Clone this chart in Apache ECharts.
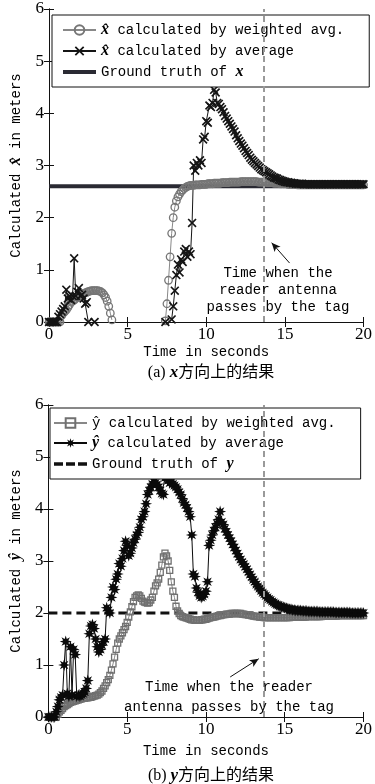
<!DOCTYPE html>
<html>
<head>
<meta charset="utf-8">
<script src="https://cdn.jsdelivr.net/npm/echarts@6/dist/echarts.min.js"></script>
<style>
html,body{margin:0;padding:0;background:#fff;}
#chart{width:375px;height:784px;}
</style>
</head>
<body>
<div id="chart"></div>
<script>
// ---------- DATA ----------
const _ = null;
// sampling grid (seconds) 0.0 .. 20.0, step 0.1
const TIME = Array.from({length: 201}, (v, i) => i / 10);
const X_TICKS = [0, 5, 10, 15, 20];
const Y_TICKS = [0, 1, 2, 3, 4, 5, 6];

// (a) x estimate by weighted average
const WX = [
  0,0,0,0,0,0,0,0,0.12,0.17,
  0.2,0.23,0.28,0.33,0.38,0.4,0.42,0.45,0.48,0.5,
  0.52,0.54,0.55,0.56,0.57,0.58,0.59,0.6,0.6,0.6,
  0.6,0.6,0.59,0.58,0.56,0.52,0.47,0.4,0.3,0.17,
  0.04,_,_,_,_,_,_,_,_,_,
  _,_,_,_,_,_,_,_,_,_,
  _,_,_,_,_,_,_,_,_,_,
  _,_,_,_,0.02,0.35,0.8,1.25,1.7,2.0,
  2.2,2.32,2.4,2.45,2.5,2.53,2.56,2.58,2.6,2.61,
  2.62,2.62,2.62,2.63,2.63,2.63,2.63,2.64,2.64,2.64,
  2.64,2.65,2.65,2.65,2.65,2.66,2.66,2.66,2.66,2.66,
  2.67,2.67,2.67,2.67,2.67,2.68,2.68,2.68,2.68,2.68,
  2.68,2.68,2.69,2.69,2.69,2.69,2.69,2.69,2.69,2.69,
  2.69,2.69,2.69,2.68,2.68,2.68,2.68,2.68,2.68,2.67,
  2.67,2.67,2.67,2.66,2.66,2.66,2.66,2.65,2.65,2.65,
  2.65,2.65,2.64,2.64,2.64,2.64,2.64,2.64,2.63,2.63,
  2.63,2.63,2.63,2.63,2.63,2.63,2.63,2.63,2.63,2.63,
  2.63,2.63,2.63,2.63,2.63,2.63,2.63,2.63,2.63,2.63,
  2.63,2.63,2.63,2.63,2.63,2.63,2.63,2.63,2.63,2.63,
  2.63,2.63,2.63,2.63,2.63,2.63,2.63,2.63,2.63,2.63,
  2.63
];
// (a) x estimate by plain average
const AX = [
  0,0,0,0,0,0,0.1,0.15,0.2,0.25,
  0.3,0.62,0.45,0.5,0.42,0.5,1.22,0.5,0.58,0.65,
  0.5,0.52,0.45,0.35,0.38,0,_,_,_,0,
  _,_,_,_,_,_,_,_,_,_,
  _,_,_,_,_,_,_,_,_,_,
  _,_,_,_,_,_,_,_,_,_,
  _,_,_,_,_,_,_,_,_,_,
  _,_,_,_,0,_,_,_,0.05,0.3,
  0.6,0.9,1.1,0.95,1.2,1.15,1.35,1.4,1.25,1.35,
  1.3,1.9,3.0,2.9,3.05,3.0,3.1,3.05,3.5,3.55,
  3.85,3.82,4.15,4.12,4.2,4.45,4.4,4.2,4.18,4.12,
  4.08,4.02,3.95,3.9,3.85,3.8,3.75,3.7,3.65,3.58,
  3.52,3.47,3.42,3.38,3.33,3.28,3.24,3.2,3.15,3.11,
  3.08,3.05,3.02,2.99,2.96,2.93,2.91,2.89,2.87,2.85,
  2.83,2.81,2.79,2.77,2.76,2.75,2.73,2.72,2.71,2.7,
  2.69,2.68,2.68,2.67,2.67,2.66,2.66,2.65,2.65,2.65,
  2.65,2.65,2.64,2.64,2.64,2.64,2.64,2.64,2.64,2.64,
  2.64,2.64,2.64,2.64,2.64,2.64,2.64,2.64,2.64,2.64,
  2.64,2.64,2.64,2.64,2.64,2.64,2.64,2.64,2.64,2.64,
  2.64,2.64,2.64,2.64,2.64,2.64,2.64,2.64,2.64,2.64,
  2.64
];
const GT_TIME = [0, 20];
const GT_X = [2.6, 2.6];

// (b) y estimate by weighted average
const WY = [
  0,0,0,0,0,0,0.05,0.1,0.13,0.16,
  0.2,0.22,0.24,0.26,0.28,0.29,0.3,0.31,0.32,0.33,
  0.34,0.35,0.36,0.36,0.37,0.37,0.38,0.38,0.39,0.4,
  0.41,0.42,0.44,0.47,0.5,0.55,0.6,0.66,0.72,0.8,
  0.9,1.02,1.15,1.3,1.42,1.5,1.56,1.62,1.68,1.74,
  1.82,1.92,2.02,2.12,2.22,2.3,2.33,2.35,2.33,2.28,
  2.23,2.21,2.2,2.19,2.2,2.25,2.3,2.42,2.52,2.58,
  2.65,2.78,2.92,3.08,3.15,3.1,3.0,2.82,2.6,2.42,
  2.3,2.13,2.04,1.99,1.95,1.93,1.92,1.91,1.9,1.89,
  1.88,1.87,1.87,1.86,1.86,1.86,1.86,1.87,1.87,1.88,
  1.88,1.89,1.9,1.91,1.92,1.92,1.93,1.94,1.95,1.95,
  1.96,1.97,1.97,1.98,1.98,1.98,1.99,1.99,1.99,1.99,
  1.99,1.99,1.99,1.98,1.98,1.97,1.97,1.96,1.96,1.95,
  1.94,1.94,1.93,1.93,1.92,1.92,1.92,1.91,1.91,1.91,
  1.91,1.91,1.91,1.91,1.91,1.91,1.91,1.91,1.91,1.91,
  1.91,1.91,1.91,1.91,1.92,1.92,1.92,1.92,1.92,1.92,
  1.92,1.92,1.92,1.92,1.93,1.93,1.93,1.93,1.93,1.93,
  1.93,1.93,1.93,1.93,1.94,1.94,1.94,1.94,1.94,1.94,
  1.94,1.94,1.94,1.94,1.95,1.95,1.95,1.95,1.95,1.95,
  1.95,1.95,1.95,1.95,1.95,1.95,1.95,1.95,1.95,1.95,
  1.95
];
// (b) y estimate by plain average
const AY = [
  0,0,0,0,0,0.1,0.2,0.33,0.38,0.42,
  1.0,1.45,0.45,0.4,1.35,0.42,1.3,1.2,0.4,0.42,
  0.4,0.43,0.45,0.48,0.55,0.7,1.6,1.75,1.78,1.7,
  1.5,1.35,1.25,1.3,1.38,1.45,1.5,2.1,2.05,2.0,
  2.3,2.5,2.45,2.65,2.75,2.95,2.9,3.05,3.2,3.38,
  3.3,3.1,3.15,3.25,3.35,3.42,3.5,3.55,3.65,3.8,
  3.85,3.95,4.1,4.28,4.35,4.42,4.48,4.52,4.5,4.47,
  4.42,4.35,4.3,4.28,4.6,4.62,4.55,4.5,4.52,4.48,
  4.45,4.42,4.38,4.32,4.28,4.2,4.12,4.08,4.02,3.95,
  3.85,3.5,2.75,2.7,2.48,2.4,2.33,2.3,2.32,2.36,
  2.42,2.6,3.3,3.4,3.5,3.58,3.65,3.72,3.8,3.95,
  3.75,3.7,3.62,3.56,3.5,3.44,3.38,3.32,3.26,3.2,
  3.14,3.08,3.03,2.98,2.94,2.89,2.84,2.79,2.74,2.69,
  2.64,2.6,2.55,2.51,2.47,2.43,2.39,2.36,2.33,2.3,
  2.27,2.25,2.22,2.2,2.18,2.16,2.15,2.13,2.12,2.11,
  2.1,2.09,2.08,2.07,2.07,2.06,2.06,2.05,2.05,2.05,
  2.05,2.04,2.04,2.04,2.04,2.03,2.03,2.03,2.03,2.03,
  2.03,2.03,2.02,2.02,2.02,2.02,2.02,2.02,2.02,2.02,
  2.02,2.02,2.01,2.01,2.01,2.01,2.01,2.01,2.01,2.01,
  2.01,2.01,2.0,2.0,2.0,2.0,2.0,2.0,2.0,2.0,
  2.0
];
const GT_Y = [2.0, 2.0];

// time when the reader antenna passes by the tag
const PASS_TIME = 13.66;
// annotation arrows [fromT, fromV, toT, toV]
const ARROW_A = [15.3, 1.13, 14.16, 1.52];
const ARROW_B = [11.54, 0.77, 13.35, 1.12];

// ---------- CHART ----------
const pairs = (vals, times) => vals.map((v, i) => [(times || TIME)[i], v === null ? '-' : v]);

const X_SYMBOL = 'path://M0,1.3L1.3,0L5,3.7L8.7,0L10,1.3L6.3,5L10,8.7L8.7,10L5,6.3L1.3,10L0,8.7L3.7,5Z';
const STAR_SYMBOL = (function () {
  let d = 'path://';
  const n = 8, ro = 10, ri = 4.6;
  for (let k = 0; k < n * 2; k++) {
    const r = k % 2 ? ri : ro;
    const a = Math.PI * k / n - Math.PI / 2;
    d += (k ? 'L' : 'M') + (10 + r * Math.cos(a)).toFixed(2) + ',' + (10 + r * Math.sin(a)).toFixed(2);
  }
  return d + 'Z';
})();
// legend icons for the ground-truth lines (tiny corner specks fix the bounding box)
const CORNERS = 'M0,0L0.05,0L0,0.05Z M33,12L32.95,12L33,11.95Z ';
const ICON_SOLID = 'path://' + CORNERS + 'M0,4L33,4L33,8L0,8Z';
const ICON_DASH = 'path://' + CORNERS + 'M0,4.2L9,4.2L9,7.8L0,7.8Z M12,4.2L21,4.2L21,7.8L12,7.8Z M24,4.2L33,4.2L33,7.8L24,7.8Z';

const MONO = '"Liberation Mono", "DejaVu Sans Mono", monospace';
const SERIF = '"Liberation Serif", "DejaVu Serif", serif';
const INK = '#000';

function xAxes(gridIndex, name, gap) {
  const common = {
    type: 'value', gridIndex, min: X_TICKS[0], max: X_TICKS[X_TICKS.length - 1], interval: 5,
    axisLine: {lineStyle: {color: '#111', width: 1}},
    axisTick: {inside: true, length: 5, lineStyle: {color: '#111'}},
    splitLine: {show: false}
  };
  return [
    Object.assign({}, common, {
      position: 'bottom',
      axisLabel: {color: INK, fontFamily: SERIF, fontSize: 17, margin: 4},
      name, nameLocation: 'middle', nameGap: gap,
      nameTextStyle: {fontFamily: MONO, fontSize: 14, color: INK}
    }),
    Object.assign({}, common, {position: 'top', axisLabel: {show: false}})
  ];
}
function yAxes(gridIndex, gap, hatChar) {
  const common = {
    type: 'value', gridIndex, min: Y_TICKS[0], max: Y_TICKS[Y_TICKS.length - 1], interval: 1,
    axisLine: {lineStyle: {color: '#111', width: 1}},
    axisTick: {inside: true, length: 5, lineStyle: {color: '#111'}},
    splitLine: {show: false}
  };
  return [
    Object.assign({}, common, {
      position: 'left',
      axisLabel: {color: INK, fontFamily: SERIF, fontSize: 17, margin: 5},
      name: 'Calculated {h|' + hatChar + '} in meters', nameLocation: 'middle', nameGap: gap,
      nameTextStyle: {fontFamily: MONO, fontSize: 14, color: INK,
        rich: {h: {fontFamily: SERIF, fontStyle: 'italic', fontWeight: 'bold', fontSize: 16, color: INK}}}
    }),
    Object.assign({}, common, {position: 'right', axisLabel: {show: false}})
  ];
}

const LEGEND_TEXT = {
  wx: '{h|x\u0302} calculated by weighted avg.',
  ax: '{h|x\u0302} calculated by average',
  gx: 'Ground truth of {h|x}',
  wy: '\u0177 calculated by weighted avg.',
  ay: '{h|\u0177} calculated by average',
  gy: 'Ground truth of {h|y}'
};
function legend(items, left, top, pad) {
  return {
    data: items, orient: 'vertical', left, top,
    itemWidth: 33, itemHeight: 12, itemGap: 5,
    padding: pad, backgroundColor: '#fff', borderColor: '#111', borderWidth: 1, borderRadius: 0,
    selectedMode: false,
    formatter: n => LEGEND_TEXT[n],
    textStyle: {fontFamily: MONO, fontSize: 14, color: INK,
      rich: {h: {fontFamily: SERIF, fontStyle: 'italic', fontWeight: 'bold', fontSize: 16, color: INK}}}
  };
}

function passLine(arrow) {
  return {
    silent: true, symbol: 'none', animation: false,
    label: {show: false},
    data: [
      {xAxis: PASS_TIME, lineStyle: {color: '#9a9a9a', type: [6, 4], width: 2}},
      [
        {coord: [arrow[0], arrow[1]], symbol: 'none', lineStyle: {color: '#111', type: 'solid', width: 1}},
        {coord: [arrow[2], arrow[3]], symbol: 'arrow', symbolSize: [6, 9]}
      ]
    ]
  };
}

const captionStyle = {
  fontFamily: SERIF + ', "Noto Sans CJK SC"', fontSize: 16, fontWeight: 'normal', color: INK,
  rich: {i: {fontFamily: SERIF, fontStyle: 'italic', fontWeight: 'bold', fontSize: 17, color: INK}}
};

const chart = echarts.init(document.getElementById('chart'), null, {renderer: 'canvas'});
chart.setOption({
  animation: false,
  backgroundColor: '#fff',
  grid: [
    {left: 47, top: 9, width: 322, height: 313},
    {left: 42, top: 405, width: 331, height: 312}
  ],
  xAxis: [...xAxes(0, 'Time in seconds', 23), ...xAxes(1, 'Time in seconds', 27)],
  yAxis: [...yAxes(0, 25, 'x\u0302'), ...yAxes(1, 20, '\u0177')],
  legend: [
    legend(['wx', 'ax', {name: 'gx', icon: ICON_SOLID}], 52, 15, [7, 25, 7, 10]),
    legend(['wy', 'ay', {name: 'gy', icon: ICON_DASH}], 50, 408, [8, 25, 7, 3])
  ],
  title: [
    {text: '(a) {i|x}方向上的结果', left: 211, top: 364, padding: 0, textAlign: 'center', textStyle: captionStyle},
    {text: '(b) {i|y}方向上的结果', left: 211, top: 767, padding: 0, textAlign: 'center', textStyle: captionStyle}
  ],
  graphic: [
    {type: 'text', x: 278, y: 265, z: 100,
     style: {text: 'Time when the\nreader antenna\npasses by the tag', align: 'center', verticalAlign: 'top',
       font: '14px ' + MONO, fill: INK, lineHeight: 17}},
    {type: 'text', x: 229, y: 677, z: 100,
     style: {text: 'Time when the reader\nantenna passes by the tag', align: 'center', verticalAlign: 'top',
       font: '14px ' + MONO, fill: INK, lineHeight: 20}}
  ],
  series: [
    {name: 'wx', type: 'line', xAxisIndex: 0, yAxisIndex: 0, data: pairs(WX),
     symbol: 'circle', symbolSize: 7.5,
     itemStyle: {color: 'rgba(0,0,0,0)', borderColor: '#767676', borderWidth: 1.3},
     lineStyle: {color: '#888', width: 1}},
    {name: 'ax', type: 'line', xAxisIndex: 0, yAxisIndex: 0, data: pairs(AX),
     symbol: X_SYMBOL, symbolSize: 9,
     itemStyle: {color: '#151515'}, lineStyle: {color: '#151515', width: 1}},
    {name: 'gx', type: 'line', xAxisIndex: 0, yAxisIndex: 0, data: pairs(GT_X, GT_TIME),
     symbol: 'none', itemStyle: {color: '#2a2a33'}, lineStyle: {color: '#2a2a33', width: 4},
     markLine: passLine(ARROW_A)},
    {name: 'wy', type: 'line', xAxisIndex: 2, yAxisIndex: 2, data: pairs(WY),
     symbol: 'rect', symbolSize: 6,
     itemStyle: {color: 'rgba(0,0,0,0)', borderColor: '#707070', borderWidth: 1.3},
     lineStyle: {color: '#888', width: 1}},
    {name: 'ay', type: 'line', xAxisIndex: 2, yAxisIndex: 2, data: pairs(AY),
     symbol: STAR_SYMBOL, symbolSize: 12,
     itemStyle: {color: '#0a0a0a'}, lineStyle: {color: '#0a0a0a', width: 1}},
    {name: 'gy', type: 'line', xAxisIndex: 2, yAxisIndex: 2, data: pairs(GT_Y, GT_TIME),
     symbol: 'none', itemStyle: {color: '#111'}, lineStyle: {color: '#111', width: 3, type: [9, 5]},
     markLine: passLine(ARROW_B)}
  ]
});
</script>
</body>
</html>
